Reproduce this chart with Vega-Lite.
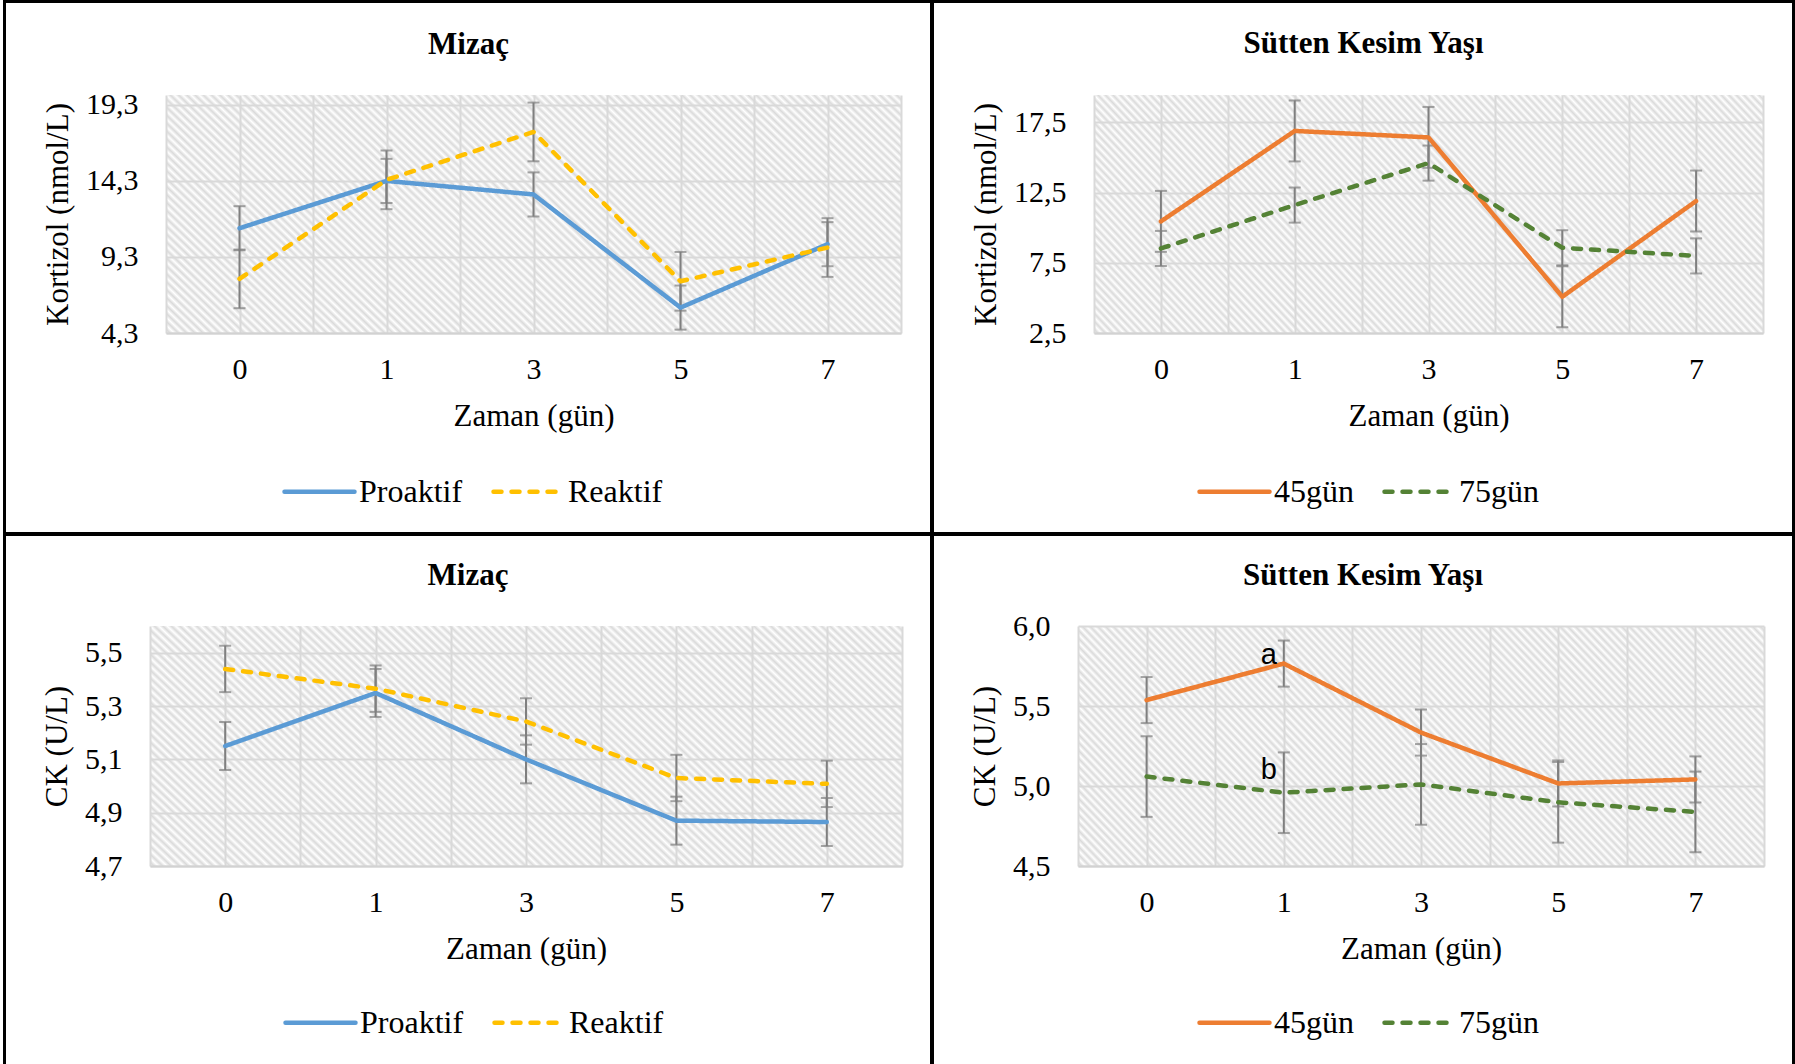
{
  "$schema": "https://vega.github.io/schema/vega-lite/v6.json",
  "background": "white",
  "padding": 0,
  "spacing": 0,
  "bounds": "full",
  "params": [
    {"name": "hatch", "value": {"gradient": "linear", "x1": 0, "y1": 1, "x2": 1.2006, "y2": 0.5959, "stops": [
      {"offset":0,"color":"#fff"},{"offset":0.0042,"color":"#dadada"},{"offset":0.0084,"color":"#fff"},{"offset":0.0126,"color":"#dadada"},{"offset":0.0168,"color":"#fff"},{"offset":0.021,"color":"#dadada"},{"offset":0.0252,"color":"#fff"},{"offset":0.0294,"color":"#dadada"},{"offset":0.0336,"color":"#fff"},{"offset":0.0378,"color":"#dadada"},
      {"offset":0.042,"color":"#fff"},{"offset":0.0462,"color":"#dadada"},{"offset":0.0504,"color":"#fff"},{"offset":0.0546,"color":"#dadada"},{"offset":0.0588,"color":"#fff"},{"offset":0.063,"color":"#dadada"},{"offset":0.0672,"color":"#fff"},{"offset":0.0714,"color":"#dadada"},{"offset":0.0756,"color":"#fff"},{"offset":0.0798,"color":"#dadada"},
      {"offset":0.084,"color":"#fff"},{"offset":0.0882,"color":"#dadada"},{"offset":0.0924,"color":"#fff"},{"offset":0.0966,"color":"#dadada"},{"offset":0.1008,"color":"#fff"},{"offset":0.105,"color":"#dadada"},{"offset":0.1092,"color":"#fff"},{"offset":0.1134,"color":"#dadada"},{"offset":0.1176,"color":"#fff"},{"offset":0.1218,"color":"#dadada"},
      {"offset":0.126,"color":"#fff"},{"offset":0.1302,"color":"#dadada"},{"offset":0.1344,"color":"#fff"},{"offset":0.1386,"color":"#dadada"},{"offset":0.1428,"color":"#fff"},{"offset":0.147,"color":"#dadada"},{"offset":0.1512,"color":"#fff"},{"offset":0.1554,"color":"#dadada"},{"offset":0.1596,"color":"#fff"},{"offset":0.1638,"color":"#dadada"},
      {"offset":0.168,"color":"#fff"},{"offset":0.1722,"color":"#dadada"},{"offset":0.1764,"color":"#fff"},{"offset":0.1806,"color":"#dadada"},{"offset":0.1848,"color":"#fff"},{"offset":0.189,"color":"#dadada"},{"offset":0.1932,"color":"#fff"},{"offset":0.1974,"color":"#dadada"},{"offset":0.2016,"color":"#fff"},{"offset":0.2058,"color":"#dadada"},
      {"offset":0.21,"color":"#fff"},{"offset":0.2142,"color":"#dadada"},{"offset":0.2184,"color":"#fff"},{"offset":0.2226,"color":"#dadada"},{"offset":0.2268,"color":"#fff"},{"offset":0.231,"color":"#dadada"},{"offset":0.2352,"color":"#fff"},{"offset":0.2394,"color":"#dadada"},{"offset":0.2436,"color":"#fff"},{"offset":0.2478,"color":"#dadada"},
      {"offset":0.252,"color":"#fff"},{"offset":0.2562,"color":"#dadada"},{"offset":0.2604,"color":"#fff"},{"offset":0.2646,"color":"#dadada"},{"offset":0.2688,"color":"#fff"},{"offset":0.273,"color":"#dadada"},{"offset":0.2772,"color":"#fff"},{"offset":0.2814,"color":"#dadada"},{"offset":0.2856,"color":"#fff"},{"offset":0.2898,"color":"#dadada"},
      {"offset":0.294,"color":"#fff"},{"offset":0.2982,"color":"#dadada"},{"offset":0.3024,"color":"#fff"},{"offset":0.3066,"color":"#dadada"},{"offset":0.3108,"color":"#fff"},{"offset":0.315,"color":"#dadada"},{"offset":0.3192,"color":"#fff"},{"offset":0.3234,"color":"#dadada"},{"offset":0.3276,"color":"#fff"},{"offset":0.3318,"color":"#dadada"},
      {"offset":0.336,"color":"#fff"},{"offset":0.3402,"color":"#dadada"},{"offset":0.3444,"color":"#fff"},{"offset":0.3486,"color":"#dadada"},{"offset":0.3528,"color":"#fff"},{"offset":0.357,"color":"#dadada"},{"offset":0.3612,"color":"#fff"},{"offset":0.3654,"color":"#dadada"},{"offset":0.3696,"color":"#fff"},{"offset":0.3738,"color":"#dadada"},
      {"offset":0.378,"color":"#fff"},{"offset":0.3822,"color":"#dadada"},{"offset":0.3864,"color":"#fff"},{"offset":0.3906,"color":"#dadada"},{"offset":0.3948,"color":"#fff"},{"offset":0.399,"color":"#dadada"},{"offset":0.4032,"color":"#fff"},{"offset":0.4074,"color":"#dadada"},{"offset":0.4116,"color":"#fff"},{"offset":0.4158,"color":"#dadada"},
      {"offset":0.42,"color":"#fff"},{"offset":0.4242,"color":"#dadada"},{"offset":0.4284,"color":"#fff"},{"offset":0.4326,"color":"#dadada"},{"offset":0.4368,"color":"#fff"},{"offset":0.441,"color":"#dadada"},{"offset":0.4452,"color":"#fff"},{"offset":0.4494,"color":"#dadada"},{"offset":0.4536,"color":"#fff"},{"offset":0.4578,"color":"#dadada"},
      {"offset":0.462,"color":"#fff"},{"offset":0.4662,"color":"#dadada"},{"offset":0.4704,"color":"#fff"},{"offset":0.4746,"color":"#dadada"},{"offset":0.4788,"color":"#fff"},{"offset":0.483,"color":"#dadada"},{"offset":0.4872,"color":"#fff"},{"offset":0.4914,"color":"#dadada"},{"offset":0.4956,"color":"#fff"},{"offset":0.4998,"color":"#dadada"},
      {"offset":0.504,"color":"#fff"},{"offset":0.5082,"color":"#dadada"},{"offset":0.5124,"color":"#fff"},{"offset":0.5166,"color":"#dadada"},{"offset":0.5208,"color":"#fff"},{"offset":0.525,"color":"#dadada"},{"offset":0.5292,"color":"#fff"},{"offset":0.5334,"color":"#dadada"},{"offset":0.5376,"color":"#fff"},{"offset":0.5418,"color":"#dadada"},
      {"offset":0.546,"color":"#fff"},{"offset":0.5502,"color":"#dadada"},{"offset":0.5544,"color":"#fff"},{"offset":0.5586,"color":"#dadada"},{"offset":0.5628,"color":"#fff"},{"offset":0.567,"color":"#dadada"},{"offset":0.5712,"color":"#fff"},{"offset":0.5754,"color":"#dadada"},{"offset":0.5796,"color":"#fff"},{"offset":0.5838,"color":"#dadada"},
      {"offset":0.588,"color":"#fff"},{"offset":0.5922,"color":"#dadada"},{"offset":0.5964,"color":"#fff"},{"offset":0.6006,"color":"#dadada"},{"offset":0.6048,"color":"#fff"},{"offset":0.609,"color":"#dadada"},{"offset":0.6132,"color":"#fff"},{"offset":0.6174,"color":"#dadada"},{"offset":0.6216,"color":"#fff"},{"offset":0.6258,"color":"#dadada"},
      {"offset":0.63,"color":"#fff"},{"offset":0.6342,"color":"#dadada"},{"offset":0.6384,"color":"#fff"},{"offset":0.6426,"color":"#dadada"},{"offset":0.6468,"color":"#fff"},{"offset":0.651,"color":"#dadada"},{"offset":0.6552,"color":"#fff"},{"offset":0.6594,"color":"#dadada"},{"offset":0.6636,"color":"#fff"},{"offset":0.6678,"color":"#dadada"},
      {"offset":0.672,"color":"#fff"},{"offset":0.6762,"color":"#dadada"},{"offset":0.6804,"color":"#fff"},{"offset":0.6846,"color":"#dadada"},{"offset":0.6888,"color":"#fff"},{"offset":0.693,"color":"#dadada"},{"offset":0.6972,"color":"#fff"},{"offset":0.7014,"color":"#dadada"},{"offset":0.7056,"color":"#fff"},{"offset":0.7098,"color":"#dadada"},
      {"offset":0.714,"color":"#fff"},{"offset":0.7182,"color":"#dadada"},{"offset":0.7224,"color":"#fff"},{"offset":0.7266,"color":"#dadada"},{"offset":0.7308,"color":"#fff"},{"offset":0.735,"color":"#dadada"},{"offset":0.7392,"color":"#fff"},{"offset":0.7434,"color":"#dadada"},{"offset":0.7476,"color":"#fff"},{"offset":0.7518,"color":"#dadada"},
      {"offset":0.756,"color":"#fff"},{"offset":0.7602,"color":"#dadada"},{"offset":0.7644,"color":"#fff"},{"offset":0.7686,"color":"#dadada"},{"offset":0.7728,"color":"#fff"},{"offset":0.777,"color":"#dadada"},{"offset":0.7812,"color":"#fff"},{"offset":0.7854,"color":"#dadada"},{"offset":0.7896,"color":"#fff"},{"offset":0.7938,"color":"#dadada"},
      {"offset":0.798,"color":"#fff"},{"offset":0.8022,"color":"#dadada"},{"offset":0.8064,"color":"#fff"},{"offset":0.8106,"color":"#dadada"},{"offset":0.8148,"color":"#fff"},{"offset":0.819,"color":"#dadada"},{"offset":0.8232,"color":"#fff"},{"offset":0.8274,"color":"#dadada"},{"offset":0.8316,"color":"#fff"},{"offset":0.8358,"color":"#dadada"},
      {"offset":0.84,"color":"#fff"},{"offset":0.8442,"color":"#dadada"},{"offset":0.8484,"color":"#fff"},{"offset":0.8526,"color":"#dadada"},{"offset":0.8568,"color":"#fff"},{"offset":0.861,"color":"#dadada"},{"offset":0.8652,"color":"#fff"},{"offset":0.8694,"color":"#dadada"},{"offset":0.8736,"color":"#fff"},{"offset":0.8778,"color":"#dadada"},
      {"offset":0.882,"color":"#fff"},{"offset":0.8862,"color":"#dadada"},{"offset":0.8904,"color":"#fff"},{"offset":0.8946,"color":"#dadada"},{"offset":0.8988,"color":"#fff"},{"offset":0.903,"color":"#dadada"},{"offset":0.9072,"color":"#fff"},{"offset":0.9114,"color":"#dadada"},{"offset":0.9156,"color":"#fff"},{"offset":0.9198,"color":"#dadada"},
      {"offset":0.924,"color":"#fff"},{"offset":0.9282,"color":"#dadada"},{"offset":0.9324,"color":"#fff"},{"offset":0.9366,"color":"#dadada"},{"offset":0.9408,"color":"#fff"},{"offset":0.945,"color":"#dadada"},{"offset":0.9492,"color":"#fff"},{"offset":0.9534,"color":"#dadada"},{"offset":0.9576,"color":"#fff"},{"offset":0.9618,"color":"#dadada"},
      {"offset":0.966,"color":"#fff"},{"offset":0.9702,"color":"#dadada"},{"offset":0.9744,"color":"#fff"},{"offset":0.9786,"color":"#dadada"},{"offset":0.9828,"color":"#fff"},{"offset":0.987,"color":"#dadada"},{"offset":0.9912,"color":"#fff"},{"offset":0.9954,"color":"#dadada"},{"offset":0.9996,"color":"#fff"}
    ]}}
  ],
  "resolve": {
    "scale": {"x": "independent", "y": "independent", "color": "independent", "strokeDash": "independent"},
    "legend": {"color": "independent", "strokeDash": "independent"}
  },
  "config": {
    "view": {"stroke": null},
    "title": {"font": "Liberation Serif", "fontSize": 31, "fontWeight": "bold", "color": "black", "anchor": "middle", "frame": "group", "baseline": "alphabetic"},
    "axis": {"labelFont": "Liberation Serif", "titleFont": "Liberation Serif", "labelFontSize": 30, "titleFontSize": 31, "titleFontWeight": "normal", "labelColor": "black", "titleColor": "black", "ticks": false, "tickSize": 0, "grid": true, "gridColor": "#d9d9d9", "gridWidth": 2, "domainColor": "#d2d2d2", "domainWidth": 2},
    "axisX": {"labelPadding": 21.5, "titlePadding": 17, "labelFlush": false, "labelOverlap": false},
    "axisY": {"labelPadding": 28, "titlePadding": 11, "domain": false},
    "legend": {"labelFont": "Liberation Serif", "labelFontSize": 32, "labelColor": "black", "symbolType": "stroke", "symbolSize": 4900, "symbolStrokeWidth": 4.5, "labelOffset": 2, "columnPadding": 21, "padding": 0, "title": null}
  },
  "vconcat": [
    {
      "columns": 10,
      "align": "each",
      "bounds": "flush",
      "spacing": 0,
      "resolve": {
        "scale": {"x": "independent", "y": "independent", "color": "independent", "strokeDash": "independent"},
        "legend": {"color": "independent", "strokeDash": "independent"}
      },
      "concat": [
        {"width": 3, "height": 3, "data": {"values": []}, "mark": {"type": "point", "opacity": 0}},
        {"width": 3, "height": 3, "data": {"values": []}, "mark": {"type": "point", "opacity": 0}, "view": {"fill": "black"}},
        {"width": 160, "height": 3, "data": {"values": []}, "mark": {"type": "point", "opacity": 0}, "view": {"fill": "black"}},
        {"width": 735, "height": 3, "data": {"values": []}, "mark": {"type": "point", "opacity": 0}, "view": {"fill": "black"}},
        {"width": 29, "height": 3, "data": {"values": []}, "mark": {"type": "point", "opacity": 0}, "view": {"fill": "black"}},
        {"width": 4, "height": 3, "data": {"values": []}, "mark": {"type": "point", "opacity": 0}, "view": {"fill": "black"}},
        {"width": 160, "height": 3, "data": {"values": []}, "mark": {"type": "point", "opacity": 0}, "view": {"fill": "black"}},
        {"width": 669, "height": 3, "data": {"values": []}, "mark": {"type": "point", "opacity": 0}, "view": {"fill": "black"}},
        {"width": 29, "height": 3, "data": {"values": []}, "mark": {"type": "point", "opacity": 0}, "view": {"fill": "black"}},
        {"width": 3, "height": 3, "data": {"values": []}, "mark": {"type": "point", "opacity": 0}, "view": {"fill": "black"}},

        {"width": 3, "height": 92, "data": {"values": []}, "mark": {"type": "point", "opacity": 0}},
        {"width": 3, "height": 92, "data": {"values": []}, "mark": {"type": "point", "opacity": 0}, "view": {"fill": "black"}},
        {"width": 160, "height": 92, "data": {"values": []}, "mark": {"type": "point", "opacity": 0}},
        {"width": 735, "height": 92, "data": {"values": []}, "mark": {"type": "point", "opacity": 0}},
        {"width": 29, "height": 92, "data": {"values": []}, "mark": {"type": "point", "opacity": 0}},
        {"width": 4, "height": 92, "data": {"values": []}, "mark": {"type": "point", "opacity": 0}, "view": {"fill": "black"}},
        {"width": 160, "height": 92, "data": {"values": []}, "mark": {"type": "point", "opacity": 0}},
        {"width": 669, "height": 92, "data": {"values": []}, "mark": {"type": "point", "opacity": 0}},
        {"width": 29, "height": 92, "data": {"values": []}, "mark": {"type": "point", "opacity": 0}},
        {"width": 3, "height": 92, "data": {"values": []}, "mark": {"type": "point", "opacity": 0}, "view": {"fill": "black"}},

        {"width": 3, "height": 238, "data": {"values": []}, "mark": {"type": "point", "opacity": 0}},
        {"width": 3, "height": 238, "data": {"values": []}, "mark": {"type": "point", "opacity": 0}, "view": {"fill": "black"}},
        {"width": 160, "height": 238, "data": {"values": []}, "mark": {"type": "point", "opacity": 0}},
        {
          "width": 735, "height": 238,
          "title": {"text": "Mizaç", "dx": -65, "offset": 29},
          "view": {"fill": {"expr": "hatch"}, "stroke": null},
          "data": {"values": [
            {"grup": "Proaktif", "gun": "0", "sira": 0, "ortalama": 11.19, "se": 1.45},
            {"grup": "Proaktif", "gun": "1", "sira": 1, "ortalama": 14.30, "se": 1.45},
            {"grup": "Proaktif", "gun": "3", "sira": 2, "ortalama": 13.41, "se": 1.45},
            {"grup": "Proaktif", "gun": "5", "sira": 3, "ortalama": 5.97, "se": 1.45},
            {"grup": "Proaktif", "gun": "7", "sira": 4, "ortalama": 10.14, "se": 1.45},
            {"grup": "Reaktif", "gun": "0", "sira": 0, "ortalama": 7.86, "se": 1.93},
            {"grup": "Reaktif", "gun": "1", "sira": 1, "ortalama": 14.37, "se": 1.93},
            {"grup": "Reaktif", "gun": "3", "sira": 2, "ortalama": 17.52, "se": 1.93},
            {"grup": "Reaktif", "gun": "5", "sira": 3, "ortalama": 7.70, "se": 1.93},
            {"grup": "Reaktif", "gun": "7", "sira": 4, "ortalama": 9.92, "se": 1.93}
          ]},
          "encoding": {
            "x": {"field": "sira", "type": "quantitative", "scale": {"domain": [-0.5, 4.5], "nice": false, "zero": false},
                  "axis": {"title": "Zaman (gün)", "values": [-0.5, 0, 0.5, 1, 1.5, 2, 2.5, 3, 3.5, 4, 4.5],
                           "labelExpr": "datum.value == 0 ? '0' : datum.value == 1 ? '1' : datum.value == 2 ? '3' : datum.value == 3 ? '5' : datum.value == 4 ? '7' : ''"}},
            "y": {"field": "ortalama", "type": "quantitative", "scale": {"domain": [4.3, 19.95], "nice": false, "zero": false},
                  "axis": {"title": "Kortizol (nmol/L)", "values": [4.3, 9.3, 14.3, 19.3], "labelExpr": "replace(format(datum.value, '.1f'), '.', ',')"}}
          },
          "layer": [
            {"mark": {"type": "errorbar", "ticks": {"size": 12, "thickness": 2}, "thickness": 2, "color": "#7f7f7f"},
             "encoding": {"yError": {"field": "se"}}},
            {"mark": {"type": "line", "strokeWidth": 4.5, "strokeCap": "round", "strokeJoin": "round"},
             "encoding": {
               "color": {"field": "grup", "type": "nominal", "scale": {"domain": ["Proaktif", "Reaktif"], "range": ["#5B9BD5", "#FFC000"]},
                         "legend": {"orient": "none", "direction": "horizontal", "legendX": 116, "legendY": 359, "title": null, "encode": {"symbols": {"update": {"strokeCap": {"value": "round"}}}}}},
               "strokeDash": {"field": "grup", "type": "nominal", "scale": {"domain": ["Proaktif", "Reaktif"], "range": [[1, 0], [8, 10]]},
                         "legend": {"orient": "none", "direction": "horizontal", "legendX": 116, "legendY": 359, "title": null, "encode": {"symbols": {"update": {"strokeCap": {"value": "round"}}}}}}
             }}
          ]
        },
        {"width": 29, "height": 238, "data": {"values": []}, "mark": {"type": "point", "opacity": 0}},
        {"width": 4, "height": 238, "data": {"values": []}, "mark": {"type": "point", "opacity": 0}, "view": {"fill": "black"}},
        {"width": 160, "height": 238, "data": {"values": []}, "mark": {"type": "point", "opacity": 0}},
        {
          "width": 669, "height": 238,
          "title": {"text": "Sütten Kesim Yaşı", "dx": -65, "offset": 35},
          "view": {"fill": {"expr": "hatch"}, "stroke": null},
          "data": {"values": [
            {"grup": "45gün", "gun": "0", "sira": 0, "ortalama": 10.45, "se": 2.17},
            {"grup": "45gün", "gun": "1", "sira": 1, "ortalama": 16.89, "se": 2.17},
            {"grup": "45gün", "gun": "3", "sira": 2, "ortalama": 16.43, "se": 2.17},
            {"grup": "45gün", "gun": "5", "sira": 3, "ortalama": 5.08, "se": 2.17},
            {"grup": "45gün", "gun": "7", "sira": 4, "ortalama": 11.90, "se": 2.17},
            {"grup": "75gün", "gun": "0", "sira": 0, "ortalama": 8.52, "se": 1.25},
            {"grup": "75gün", "gun": "1", "sira": 1, "ortalama": 11.61, "se": 1.25},
            {"grup": "75gün", "gun": "3", "sira": 2, "ortalama": 14.60, "se": 1.25},
            {"grup": "75gün", "gun": "5", "sira": 3, "ortalama": 8.57, "se": 1.25},
            {"grup": "75gün", "gun": "7", "sira": 4, "ortalama": 7.99, "se": 1.25}
          ]},
          "encoding": {
            "x": {"field": "sira", "type": "quantitative", "scale": {"domain": [-0.5, 4.5], "nice": false, "zero": false},
                  "axis": {"title": "Zaman (gün)", "values": [-0.5, 0, 0.5, 1, 1.5, 2, 2.5, 3, 3.5, 4, 4.5],
                           "labelExpr": "datum.value == 0 ? '0' : datum.value == 1 ? '1' : datum.value == 2 ? '3' : datum.value == 3 ? '5' : datum.value == 4 ? '7' : ''"}},
            "y": {"field": "ortalama", "type": "quantitative", "scale": {"domain": [2.5, 19.45], "nice": false, "zero": false},
                  "axis": {"title": "Kortizol (nmol/L)", "values": [2.5, 7.5, 12.5, 17.5], "labelExpr": "replace(format(datum.value, '.1f'), '.', ',')"}}
          },
          "layer": [
            {"mark": {"type": "errorbar", "ticks": {"size": 12, "thickness": 2}, "thickness": 2, "color": "#7f7f7f"},
             "encoding": {"yError": {"field": "se"}}},
            {"mark": {"type": "line", "strokeWidth": 4.5, "strokeCap": "round", "strokeJoin": "round"},
             "encoding": {
               "color": {"field": "grup", "type": "nominal", "scale": {"domain": ["45gün", "75gün"], "range": ["#ED7D31", "#548235"]},
                         "legend": {"orient": "none", "direction": "horizontal", "legendX": 103, "legendY": 359, "title": null, "encode": {"symbols": {"update": {"strokeCap": {"value": "round"}}}}}},
               "strokeDash": {"field": "grup", "type": "nominal", "scale": {"domain": ["45gün", "75gün"], "range": [[1, 0], [8, 10]]},
                         "legend": {"orient": "none", "direction": "horizontal", "legendX": 103, "legendY": 359, "title": null, "encode": {"symbols": {"update": {"strokeCap": {"value": "round"}}}}}}
             }}
          ]
        },
        {"width": 29, "height": 238, "data": {"values": []}, "mark": {"type": "point", "opacity": 0}},
        {"width": 3, "height": 238, "data": {"values": []}, "mark": {"type": "point", "opacity": 0}, "view": {"fill": "black"}},

        {"width": 3, "height": 199, "data": {"values": []}, "mark": {"type": "point", "opacity": 0}},
        {"width": 3, "height": 199, "data": {"values": []}, "mark": {"type": "point", "opacity": 0}, "view": {"fill": "black"}},
        {"width": 160, "height": 199, "data": {"values": []}, "mark": {"type": "point", "opacity": 0}},
        {"width": 735, "height": 199, "data": {"values": []}, "mark": {"type": "point", "opacity": 0}},
        {"width": 29, "height": 199, "data": {"values": []}, "mark": {"type": "point", "opacity": 0}},
        {"width": 4, "height": 199, "data": {"values": []}, "mark": {"type": "point", "opacity": 0}, "view": {"fill": "black"}},
        {"width": 160, "height": 199, "data": {"values": []}, "mark": {"type": "point", "opacity": 0}},
        {"width": 669, "height": 199, "data": {"values": []}, "mark": {"type": "point", "opacity": 0}},
        {"width": 29, "height": 199, "data": {"values": []}, "mark": {"type": "point", "opacity": 0}},
        {"width": 3, "height": 199, "data": {"values": []}, "mark": {"type": "point", "opacity": 0}, "view": {"fill": "black"}}
      ]
    },
    {
      "columns": 10,
      "align": "each",
      "bounds": "flush",
      "spacing": 0,
      "resolve": {
        "scale": {"x": "independent", "y": "independent", "color": "independent", "strokeDash": "independent"},
        "legend": {"color": "independent", "strokeDash": "independent"}
      },
      "concat": [
        {"width": 3, "height": 4, "data": {"values": []}, "mark": {"type": "point", "opacity": 0}},
        {"width": 3, "height": 4, "data": {"values": []}, "mark": {"type": "point", "opacity": 0}, "view": {"fill": "black"}},
        {"width": 144, "height": 4, "data": {"values": []}, "mark": {"type": "point", "opacity": 0}, "view": {"fill": "black"}},
        {"width": 752, "height": 4, "data": {"values": []}, "mark": {"type": "point", "opacity": 0}, "view": {"fill": "black"}},
        {"width": 28, "height": 4, "data": {"values": []}, "mark": {"type": "point", "opacity": 0}, "view": {"fill": "black"}},
        {"width": 4, "height": 4, "data": {"values": []}, "mark": {"type": "point", "opacity": 0}, "view": {"fill": "black"}},
        {"width": 144, "height": 4, "data": {"values": []}, "mark": {"type": "point", "opacity": 0}, "view": {"fill": "black"}},
        {"width": 686, "height": 4, "data": {"values": []}, "mark": {"type": "point", "opacity": 0}, "view": {"fill": "black"}},
        {"width": 28, "height": 4, "data": {"values": []}, "mark": {"type": "point", "opacity": 0}, "view": {"fill": "black"}},
        {"width": 3, "height": 4, "data": {"values": []}, "mark": {"type": "point", "opacity": 0}, "view": {"fill": "black"}},

        {"width": 3, "height": 90, "data": {"values": []}, "mark": {"type": "point", "opacity": 0}},
        {"width": 3, "height": 90, "data": {"values": []}, "mark": {"type": "point", "opacity": 0}, "view": {"fill": "black"}},
        {"width": 144, "height": 90, "data": {"values": []}, "mark": {"type": "point", "opacity": 0}},
        {"width": 752, "height": 90, "data": {"values": []}, "mark": {"type": "point", "opacity": 0}},
        {"width": 28, "height": 90, "data": {"values": []}, "mark": {"type": "point", "opacity": 0}},
        {"width": 4, "height": 90, "data": {"values": []}, "mark": {"type": "point", "opacity": 0}, "view": {"fill": "black"}},
        {"width": 144, "height": 90, "data": {"values": []}, "mark": {"type": "point", "opacity": 0}},
        {"width": 686, "height": 90, "data": {"values": []}, "mark": {"type": "point", "opacity": 0}},
        {"width": 28, "height": 90, "data": {"values": []}, "mark": {"type": "point", "opacity": 0}},
        {"width": 3, "height": 90, "data": {"values": []}, "mark": {"type": "point", "opacity": 0}, "view": {"fill": "black"}},

        {"width": 3, "height": 240, "data": {"values": []}, "mark": {"type": "point", "opacity": 0}},
        {"width": 3, "height": 240, "data": {"values": []}, "mark": {"type": "point", "opacity": 0}, "view": {"fill": "black"}},
        {"width": 144, "height": 240, "data": {"values": []}, "mark": {"type": "point", "opacity": 0}},
        {
          "width": 752, "height": 240,
          "title": {"text": "Mizaç", "dx": -58, "offset": 34.5},
          "view": {"fill": {"expr": "hatch"}, "stroke": null},
          "data": {"values": [
            {"grup": "Proaktif", "gun": "0", "sira": 0, "ortalama": 5.150, "se": 0.090},
            {"grup": "Proaktif", "gun": "1", "sira": 1, "ortalama": 5.349, "se": 0.090},
            {"grup": "Proaktif", "gun": "3", "sira": 2, "ortalama": 5.100, "se": 0.090},
            {"grup": "Proaktif", "gun": "5", "sira": 3, "ortalama": 4.870, "se": 0.090},
            {"grup": "Proaktif", "gun": "7", "sira": 4, "ortalama": 4.865, "se": 0.090},
            {"grup": "Reaktif", "gun": "0", "sira": 0, "ortalama": 5.439, "se": 0.087},
            {"grup": "Reaktif", "gun": "1", "sira": 1, "ortalama": 5.365, "se": 0.087},
            {"grup": "Reaktif", "gun": "3", "sira": 2, "ortalama": 5.242, "se": 0.087},
            {"grup": "Reaktif", "gun": "5", "sira": 3, "ortalama": 5.030, "se": 0.087},
            {"grup": "Reaktif", "gun": "7", "sira": 4, "ortalama": 5.008, "se": 0.087}
          ]},
          "encoding": {
            "x": {"field": "sira", "type": "quantitative", "scale": {"domain": [-0.5, 4.5], "nice": false, "zero": false},
                  "axis": {"title": "Zaman (gün)", "values": [-0.5, 0, 0.5, 1, 1.5, 2, 2.5, 3, 3.5, 4, 4.5],
                           "labelExpr": "datum.value == 0 ? '0' : datum.value == 1 ? '1' : datum.value == 2 ? '3' : datum.value == 3 ? '5' : datum.value == 4 ? '7' : ''"}},
            "y": {"field": "ortalama", "type": "quantitative", "scale": {"domain": [4.7, 5.6], "nice": false, "zero": false},
                  "axis": {"title": "CK (U/L)", "values": [4.7, 4.9, 5.1, 5.3, 5.5], "labelExpr": "replace(format(datum.value, '.1f'), '.', ',')"}}
          },
          "layer": [
            {"mark": {"type": "errorbar", "ticks": {"size": 12, "thickness": 2}, "thickness": 2, "color": "#7f7f7f"},
             "encoding": {"yError": {"field": "se"}}},
            {"mark": {"type": "line", "strokeWidth": 4.5, "strokeCap": "round", "strokeJoin": "round"},
             "encoding": {
               "color": {"field": "grup", "type": "nominal", "scale": {"domain": ["Proaktif", "Reaktif"], "range": ["#5B9BD5", "#FFC000"]},
                         "legend": {"orient": "none", "direction": "horizontal", "legendX": 133, "legendY": 359, "title": null, "encode": {"symbols": {"update": {"strokeCap": {"value": "round"}}}}}},
               "strokeDash": {"field": "grup", "type": "nominal", "scale": {"domain": ["Proaktif", "Reaktif"], "range": [[1, 0], [8, 10]]},
                         "legend": {"orient": "none", "direction": "horizontal", "legendX": 133, "legendY": 359, "title": null, "encode": {"symbols": {"update": {"strokeCap": {"value": "round"}}}}}}
             }}
          ]
        },
        {"width": 28, "height": 240, "data": {"values": []}, "mark": {"type": "point", "opacity": 0}},
        {"width": 4, "height": 240, "data": {"values": []}, "mark": {"type": "point", "opacity": 0}, "view": {"fill": "black"}},
        {"width": 144, "height": 240, "data": {"values": []}, "mark": {"type": "point", "opacity": 0}},
        {
          "width": 686, "height": 240,
          "title": {"text": "Sütten Kesim Yaşı", "dx": -58, "offset": 19.5},
          "view": {"fill": {"expr": "hatch"}, "stroke": null},
          "data": {"values": [
            {"grup": "45gün", "gun": "0", "sira": 0, "ortalama": 5.537, "se": 0.144, "etiket": ""},
            {"grup": "45gün", "gun": "1", "sira": 1, "ortalama": 5.765, "se": 0.144, "etiket": "a"},
            {"grup": "45gün", "gun": "3", "sira": 2, "ortalama": 5.334, "se": 0.144, "etiket": ""},
            {"grup": "45gün", "gun": "5", "sira": 3, "ortalama": 5.016, "se": 0.144, "etiket": ""},
            {"grup": "45gün", "gun": "7", "sira": 4, "ortalama": 5.041, "se": 0.144, "etiket": ""},
            {"grup": "75gün", "gun": "0", "sira": 0, "ortalama": 5.059, "se": 0.252, "etiket": ""},
            {"grup": "75gün", "gun": "1", "sira": 1, "ortalama": 4.958, "se": 0.252, "etiket": "b"},
            {"grup": "75gün", "gun": "3", "sira": 2, "ortalama": 5.010, "se": 0.252, "etiket": ""},
            {"grup": "75gün", "gun": "5", "sira": 3, "ortalama": 4.898, "se": 0.252, "etiket": ""},
            {"grup": "75gün", "gun": "7", "sira": 4, "ortalama": 4.838, "se": 0.252, "etiket": ""}
          ]},
          "encoding": {
            "x": {"field": "sira", "type": "quantitative", "scale": {"domain": [-0.5, 4.5], "nice": false, "zero": false},
                  "axis": {"title": "Zaman (gün)", "values": [-0.5, 0, 0.5, 1, 1.5, 2, 2.5, 3, 3.5, 4, 4.5],
                           "labelExpr": "datum.value == 0 ? '0' : datum.value == 1 ? '1' : datum.value == 2 ? '3' : datum.value == 3 ? '5' : datum.value == 4 ? '7' : ''"}},
            "y": {"field": "ortalama", "type": "quantitative", "scale": {"domain": [4.5, 6.0], "nice": false, "zero": false},
                  "axis": {"title": "CK (U/L)", "values": [4.5, 5.0, 5.5, 6.0], "labelExpr": "replace(format(datum.value, '.1f'), '.', ',')"}}
          },
          "layer": [
            {"mark": {"type": "errorbar", "ticks": {"size": 12, "thickness": 2}, "thickness": 2, "color": "#7f7f7f"},
             "encoding": {"yError": {"field": "se"}}},
            {"mark": {"type": "line", "strokeWidth": 4.5, "strokeCap": "round", "strokeJoin": "round"},
             "encoding": {
               "color": {"field": "grup", "type": "nominal", "scale": {"domain": ["45gün", "75gün"], "range": ["#ED7D31", "#548235"]},
                         "legend": {"orient": "none", "direction": "horizontal", "legendX": 119, "legendY": 359, "title": null, "encode": {"symbols": {"update": {"strokeCap": {"value": "round"}}}}}},
               "strokeDash": {"field": "grup", "type": "nominal", "scale": {"domain": ["45gün", "75gün"], "range": [[1, 0], [8, 10]]},
                         "legend": {"orient": "none", "direction": "horizontal", "legendX": 119, "legendY": 359, "title": null, "encode": {"symbols": {"update": {"strokeCap": {"value": "round"}}}}}}
             }},
            {"transform": [{"filter": "datum.etiket == 'a'"}],
             "mark": {"type": "text", "font": "Liberation Sans", "fontSize": 29, "color": "black", "align": "center", "baseline": "alphabetic", "dx": -15, "dy": 0},
             "encoding": {"text": {"field": "etiket"}}},
            {"transform": [{"filter": "datum.etiket == 'b'"}],
             "mark": {"type": "text", "font": "Liberation Sans", "fontSize": 29, "color": "black", "align": "center", "baseline": "alphabetic", "dx": -15, "dy": -14},
             "encoding": {"text": {"field": "etiket"}}}
          ]
        },
        {"width": 28, "height": 240, "data": {"values": []}, "mark": {"type": "point", "opacity": 0}},
        {"width": 3, "height": 240, "data": {"values": []}, "mark": {"type": "point", "opacity": 0}, "view": {"fill": "black"}},

        {"width": 3, "height": 198, "data": {"values": []}, "mark": {"type": "point", "opacity": 0}},
        {"width": 3, "height": 198, "data": {"values": []}, "mark": {"type": "point", "opacity": 0}, "view": {"fill": "black"}},
        {"width": 144, "height": 198, "data": {"values": []}, "mark": {"type": "point", "opacity": 0}},
        {"width": 752, "height": 198, "data": {"values": []}, "mark": {"type": "point", "opacity": 0}},
        {"width": 28, "height": 198, "data": {"values": []}, "mark": {"type": "point", "opacity": 0}},
        {"width": 4, "height": 198, "data": {"values": []}, "mark": {"type": "point", "opacity": 0}, "view": {"fill": "black"}},
        {"width": 144, "height": 198, "data": {"values": []}, "mark": {"type": "point", "opacity": 0}},
        {"width": 686, "height": 198, "data": {"values": []}, "mark": {"type": "point", "opacity": 0}},
        {"width": 28, "height": 198, "data": {"values": []}, "mark": {"type": "point", "opacity": 0}},
        {"width": 3, "height": 198, "data": {"values": []}, "mark": {"type": "point", "opacity": 0}, "view": {"fill": "black"}}
      ]
    }
  ]
}
